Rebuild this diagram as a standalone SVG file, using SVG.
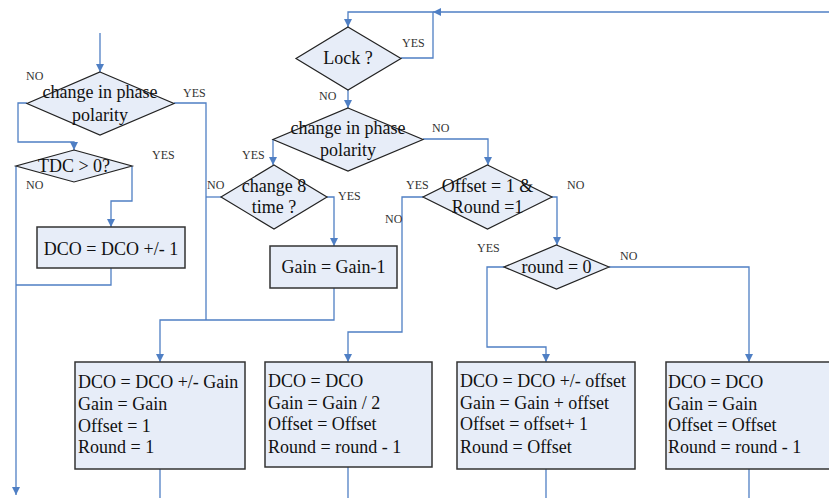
<svg xmlns="http://www.w3.org/2000/svg" width="829" height="498" viewBox="0 0 829 498">
<style>
.sh{fill:#e7edf8;stroke:#222;stroke-width:1.2}
.bx{fill:#e7edf8;stroke:#333;stroke-width:1.5}
.t{font-family:"Liberation Serif","Times New Roman",serif;font-size:18px;fill:#111}
.c{text-anchor:middle}
.l{font-family:"Liberation Serif","Times New Roman",serif;font-size:12px;fill:#333}
.cn path{fill:none;stroke:#4f7fc4;stroke-width:1.3}
</style>
<defs>
<marker id="a" viewBox="0 0 10 10" refX="10" refY="5" markerWidth="8" markerHeight="8" markerUnits="userSpaceOnUse" orient="auto">
<path d="M0,0 L10,5 L0,10 z" fill="#4f7fc4"/>
</marker>
</defs>
<rect width="829" height="498" fill="#fff"/>
<g class="cn">
<path d="M100,33 V72" marker-end="url(#a)"/>
<path d="M27,103 H18 V142 H74 V150" marker-end="url(#a)"/>
<path d="M174,103 H206 V320"/>
<path d="M221,197 H206"/>
<path d="M16,166 V495" marker-end="url(#a)"/>
<path d="M132,166 V201 H111 V227" marker-end="url(#a)"/>
<path d="M111,268 V285 H16"/>
<path d="M334,288 V320 H160 V362" marker-end="url(#a)"/>
<path d="M829,12 H433" marker-end="url(#a)"/>
<path d="M401,58 H433 V12 H348 V27" marker-end="url(#a)"/>
<path d="M348,90 V108" marker-end="url(#a)"/>
<path d="M423,139 H488 V165" marker-end="url(#a)"/>
<path d="M273,139 V165" marker-end="url(#a)"/>
<path d="M327,197 H334 V246" marker-end="url(#a)"/>
<path d="M423,197 H402 V332 H348 V362" marker-end="url(#a)"/>
<path d="M552,197 H557 V245" marker-end="url(#a)"/>
<path d="M504,267 H487 V347 H546 V362" marker-end="url(#a)"/>
<path d="M609,267 H749 V362" marker-end="url(#a)"/>
<path d="M160,469 V498"/>
<path d="M348,467 V498"/>
<path d="M546,469 V498"/>
<path d="M749,469 V498"/>
</g>
<g id="d1">
<polygon class="sh" points="100,72 174,103.5 100,135 27,103.5"/>
<text class="t c" x="100" y="98">change in phase</text>
<text class="t c" x="100" y="121">polarity</text>
</g>
<g id="d2">
<polygon class="sh" points="74,150 132,166 74,182 16,166"/>
<text class="t c" x="74" y="172">TDC &gt; 0?</text>
</g>
<g id="b1">
<rect class="bx" x="37" y="227" width="148" height="41"/>
<text class="t c" x="111" y="255">DCO = DCO +/- 1</text>
</g>
<g id="lock">
<polygon class="sh" points="348,27 401,58.5 348,90 296,58.5"/>
<text class="t c" x="348" y="64">Lock ?</text>
</g>
<g id="d3">
<polygon class="sh" points="348,108 423,139.5 348,171 273,139.5"/>
<text class="t c" x="348" y="134">change in phase</text>
<text class="t c" x="348" y="156">polarity</text>
</g>
<g id="d4">
<polygon class="sh" points="274,165 327,197 274,229 221,197"/>
<text class="t c" x="274" y="192">change 8</text>
<text class="t c" x="274" y="213">time ?</text>
</g>
<g id="b2">
<rect class="bx" x="270" y="246" width="127" height="42"/>
<text class="t c" x="333.5" y="273">Gain = Gain-1</text>
</g>
<g id="d5">
<polygon class="sh" points="487.5,165 552,197 487.5,229 423,197"/>
<text class="t c" x="487.5" y="192">Offset = 1 &amp;</text>
<text class="t c" x="487.5" y="213">Round =1</text>
</g>
<g id="d6">
<polygon class="sh" points="556.5,245 609,267 556.5,289 504,267"/>
<text class="t c" x="556.5" y="273">round = 0</text>
</g>
<g id="bA">
<rect class="bx" x="75" y="362" width="170" height="107"/>
<text class="t" x="78" y="388">DCO = DCO +/- Gain</text>
<text class="t" x="78" y="410">Gain = Gain</text>
<text class="t" x="78" y="432">Offset = 1</text>
<text class="t" x="78" y="453">Round = 1</text>
</g>
<g id="bB">
<rect class="bx" x="265" y="362" width="167" height="105"/>
<text class="t" x="268" y="387">DCO = DCO</text>
<text class="t" x="268" y="409">Gain = Gain / 2</text>
<text class="t" x="268" y="430">Offset = Offset</text>
<text class="t" x="268" y="453">Round = round - 1</text>
</g>
<g id="bC">
<rect class="bx" x="457" y="362" width="178" height="107"/>
<text class="t" x="460" y="387">DCO = DCO +/- offset</text>
<text class="t" x="460" y="409">Gain = Gain + offset</text>
<text class="t" x="460" y="430">Offset = offset+ 1</text>
<text class="t" x="460" y="453">Round = Offset</text>
</g>
<g id="bD">
<rect class="bx" x="666" y="362" width="172" height="107"/>
<text class="t" x="668" y="388">DCO = DCO</text>
<text class="t" x="668" y="410">Gain = Gain</text>
<text class="t" x="668" y="431">Offset = Offset</text>
<text class="t" x="668" y="453">Round = round - 1</text>
</g>
<g id="labels">
<text class="l" x="26" y="80">NO</text>
<text class="l" x="183" y="97">YES</text>
<text class="l" x="152" y="159">YES</text>
<text class="l" x="26" y="189">NO</text>
<text class="l" x="207" y="189">NO</text>
<text class="l" x="402" y="47">YES</text>
<text class="l" x="319" y="100">NO</text>
<text class="l" x="432" y="132">NO</text>
<text class="l" x="242" y="159">YES</text>
<text class="l" x="338" y="200">YES</text>
<text class="l" x="406" y="189">YES</text>
<text class="l" x="385" y="223">NO</text>
<text class="l" x="567" y="189">NO</text>
<text class="l" x="477" y="252">YES</text>
<text class="l" x="620" y="260">NO</text>
</g>
</svg>
